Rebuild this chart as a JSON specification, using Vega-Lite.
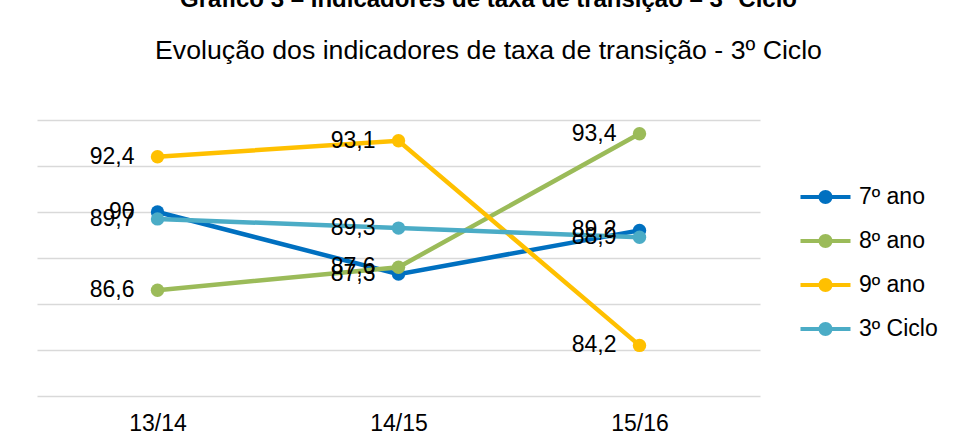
{
  "$schema": "https://vega.github.io/schema/vega-lite/v6.json",
  "width": 723,
  "height": 276,
  "autosize": {"type": "none"},
  "padding": {"left": 37, "top": 120, "right": 194, "bottom": 50},
  "background": "white",
  "title": {
    "text": "Gráfico 3 – Indicadores de taxa de transição – 3º Ciclo",
    "subtitle": "Evolução dos indicadores de taxa de transição - 3º Ciclo",
    "anchor": "middle",
    "frame": "group",
    "dx": 90,
    "offset": 55,
    "font": "Liberation Sans",
    "fontSize": 24,
    "fontWeight": "bold",
    "color": "black",
    "subtitleFont": "Liberation Sans",
    "subtitleFontSize": 26.7,
    "subtitleColor": "black",
    "subtitlePadding": 26
  },
  "data": {
    "values": [
      {"ano": "13/14", "serie": "7º ano", "valor": 90, "rotulo": "90"},
      {"ano": "14/15", "serie": "7º ano", "valor": 87.3, "rotulo": "87,3"},
      {"ano": "15/16", "serie": "7º ano", "valor": 89.2, "rotulo": "89,2"},
      {"ano": "13/14", "serie": "8º ano", "valor": 86.6, "rotulo": "86,6"},
      {"ano": "14/15", "serie": "8º ano", "valor": 87.6, "rotulo": "87,6"},
      {"ano": "15/16", "serie": "8º ano", "valor": 93.4, "rotulo": "93,4"},
      {"ano": "13/14", "serie": "9º ano", "valor": 92.4, "rotulo": "92,4"},
      {"ano": "14/15", "serie": "9º ano", "valor": 93.1, "rotulo": "93,1"},
      {"ano": "15/16", "serie": "9º ano", "valor": 84.2, "rotulo": "84,2"},
      {"ano": "13/14", "serie": "3º Ciclo", "valor": 89.7, "rotulo": "89,7"},
      {"ano": "14/15", "serie": "3º Ciclo", "valor": 89.3, "rotulo": "89,3"},
      {"ano": "15/16", "serie": "3º Ciclo", "valor": 88.9, "rotulo": "88,9"}
    ]
  },
  "encoding": {
    "x": {
      "field": "ano",
      "type": "ordinal",
      "sort": ["13/14", "14/15", "15/16"],
      "scale": {"type": "point", "padding": 0.5},
      "axis": {
        "title": null,
        "labelAngle": 0,
        "domain": false,
        "ticks": false,
        "grid": false,
        "labelFont": "Liberation Sans",
        "labelFontSize": 23,
        "labelColor": "black",
        "labelPadding": 16
      }
    },
    "y": {
      "field": "valor",
      "type": "quantitative",
      "scale": {"domain": [82, 94], "nice": false, "zero": false},
      "axis": {
        "title": null,
        "values": [82, 84, 86, 88, 90, 92, 94],
        "labels": false,
        "ticks": false,
        "domain": false,
        "grid": true,
        "gridColor": "#d9d9d9",
        "gridWidth": 1.3
      }
    },
    "color": {
      "field": "serie",
      "type": "nominal",
      "scale": {
        "domain": ["7º ano", "8º ano", "9º ano", "3º Ciclo"],
        "range": ["#0070C0", "#9BBB59", "#FFC000", "#4BACC6"]
      },
      "legend": {
        "orient": "none",
        "legendX": 777,
        "legendY": 65.5,
        "title": null,
        "padding": 0,
        "symbolType": "M-2.5,-0.2L2.5,-0.2L2.5,0.2L-2.5,0.2Z M-0.7,0A0.7,0.7 0 1,1 0.7,0A0.7,0.7 0 1,1 -0.7,0Z",
        "symbolSize": 400,
        "symbolStrokeWidth": 0,
        "labelFont": "Liberation Sans",
        "labelFontSize": 23,
        "labelColor": "black",
        "labelOffset": 22,
        "rowPadding": 20,
        "encode": {
          "symbols": {
            "update": {
              "fill": {"scale": "color", "field": "value"},
              "stroke": {"value": "transparent"},
              "opacity": {"value": 1}
            }
          }
        }
      }
    }
  },
  "layer": [
    {
      "mark": {
        "type": "line",
        "strokeWidth": 4.5,
        "point": {"filled": true, "size": 180, "opacity": 1}
      }
    },
    {
      "mark": {
        "type": "text",
        "align": "right",
        "baseline": "middle",
        "dx": -23,
        "font": "Liberation Sans",
        "fontSize": 23,
        "color": "black"
      },
      "encoding": {
        "text": {"field": "rotulo"},
        "color": {"value": "black"}
      }
    }
  ],
  "config": {"view": {"stroke": null}}
}
